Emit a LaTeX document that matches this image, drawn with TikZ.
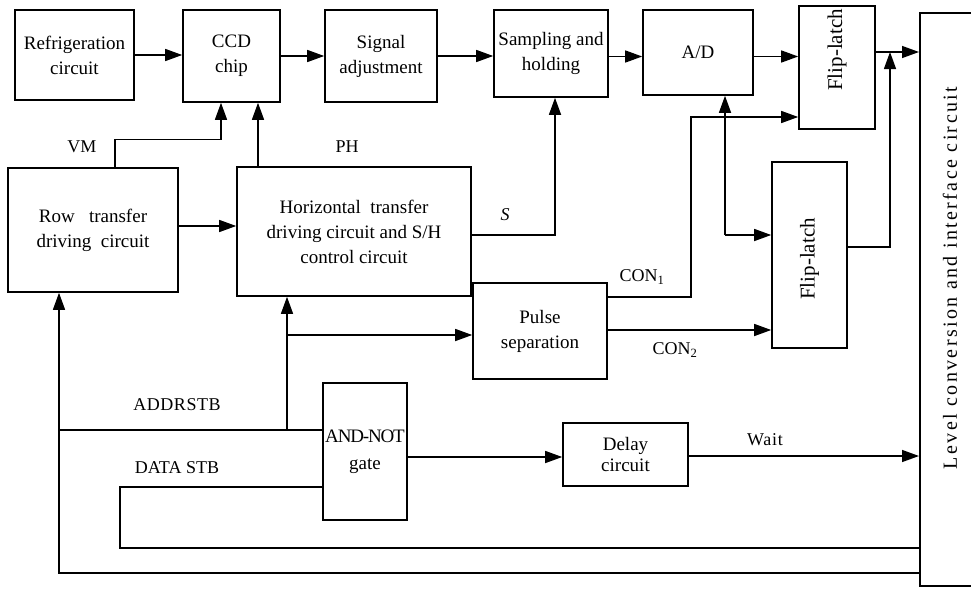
\documentclass[tikz,border=0pt]{standalone}
\usepackage{fontspec}
\setmainfont{Liberation Serif}
\usetikzlibrary{arrows.meta}
\begin{document}
\begin{tikzpicture}[x=1pt,y=-1pt,
  font=\fontsize{19}{25}\selectfont,
  box/.style={draw, line width=1.6pt, align=center, inner sep=1pt},
  arr/.style={line width=1.4pt, -{Triangle[length=17pt,width=12pt]}},
  ln/.style={line width=1.4pt},
  lab/.style={font=\fontsize{18}{22}\selectfont, inner sep=0pt}]
\useasboundingbox (0,0) rectangle (971,589);
\path[clip] (0,0) rectangle (971,589);

% top row
\node[box, minimum width=119pt, minimum height=90pt] (ref) at (74.5,55) {Refrigeration\\circuit};
\node[box, minimum width=97pt, minimum height=92pt] (ccd) at (231.5,56) {CCD\\chip};
\node[box, minimum width=112pt, minimum height=92pt] (sig) at (381,56) {Signal\\adjustment};
\node[box, minimum width=114pt, minimum height=87pt] (sh) at (551,53.5) {Sampling and\\holding};
\node[box, minimum width=110pt, minimum height=85pt] (ad) at (698,52.5) {A/D};
\node[box, minimum width=76pt, minimum height=123pt] (fl1) at (837,67.5) {};
\node[rotate=90, inner sep=0pt, font=\fontsize{21}{25}\selectfont] (fl1t) at (837,50) {Flip-latch};
\node[box, minimum width=110pt, minimum height=573pt, anchor=north west] (lvl) at (919,12) {};
\node[rotate=90, inner sep=0pt, font=\fontsize{20}{24}\selectfont] (lvlt) at (950,278) {\addfontfeature{LetterSpace=12}Level conversion and interface circuit};

% middle
\node[box, minimum width=170pt, minimum height=124pt] (row) at (93,230) {Row\ \ \ transfer\\driving\ \ circuit};
\node[box, minimum width=234pt, minimum height=129pt] (hor) at (354,231.5) {Horizontal\ \ transfer\\driving circuit and S/H\\control circuit};
\node[box, minimum width=134pt, minimum height=96pt] (pulse) at (540,331) {Pulse\\separation};
\node[box, minimum width=75pt, minimum height=186pt] (fl2) at (809.5,255) {};
\node[rotate=90, inner sep=0pt, font=\fontsize{21}{25}\selectfont] (fl2t) at (809.5,259) {Flip-latch};

% bottom
\node[box, minimum width=84pt, minimum height=137pt, inner sep=0pt, font=\fontsize{19}{27}\selectfont] (and) at (365,451.5) {\addfontfeature{LetterSpace=-6}AND-NOT\\gate};
\node[box, minimum width=125pt, minimum height=63pt, font=\fontsize{19}{21}\selectfont] (delay) at (625.5,454.5) {Delay\\circuit};

% coordinates
\coordinate (j1) at (890,52);
\coordinate (c1) at (691,117);
\coordinate (c2) at (725,235);
\coordinate (a1) at (287,430);
\coordinate (a2) at (287,335);
\coordinate (b1) at (59,430);
\coordinate (b2) at (59,573);
\coordinate (d1) at (120,487);
\coordinate (d2) at (120,548);

% top chain
\draw[arr] (ref.east) -- (ref.east -| ccd.west);
\draw[arr] (ccd.east) -- (ccd.east -| sig.west);
\draw[arr] (sig.east) -- (sig.east -| sh.west);
\draw[arr] ([yshift=-3pt]sh.east) -- ([yshift=-3pt]sh.east -| ad.west);
\draw[arr] ([yshift=-4pt]ad.east) -- ([yshift=-4pt]ad.east -| fl1.west);
\draw[arr] (fl1.east |- j1) -- (j1 -| lvl.west);
\draw[arr] ([yshift=8pt]fl2.east) -| (j1);

% VM and PH
\draw[arr] ([xshift=22pt]row.north) -- ++(0,-28) -| ([xshift=-10.5pt]ccd.south);
\draw[arr] ([xshift=-96pt]hor.north) -- ([xshift=-96pt]hor.north |- ccd.south);
\draw[arr] ([yshift=4pt]row.east) -- ([yshift=4pt]row.east -| hor.west);

% S
\draw[arr] ([yshift=-3.5pt]hor.east) -| ([xshift=4pt]sh.south);

% CON1
\draw[arr] ([yshift=34pt]pulse.east) -| (c1) -- (c1 -| fl1.west);
\draw[arr] (c2) -- (c2 |- ad.south);
\draw[arr] (c2) -- (c2 -| fl2.west);
% CON2
\draw[arr] ([yshift=1pt]pulse.east) -- ([yshift=1pt]pulse.east -| fl2.west);

% to horizontal box and pulse
\draw[arr] (a1) -- (a1 |- hor.south);
\draw[arr] (a2) -- (a2 -| pulse.west);

% ADDRSTB
\draw[ln] (b1) -- (b1 -| and.west);
\draw[arr] (b2 -| lvl.west) -- (b2) -- (b2 |- row.south);

% DATA STB
\draw[ln] (d1 -| and.west) -- (d1) -- (d2) -- (d2 -| lvl.west);

% gate -> delay -> level
\draw[arr] ([yshift=-5.5pt]and.east) -- ([yshift=-5.5pt]and.east -| delay.west);
\draw[arr] ([yshift=-1.5pt]delay.east) -- ([yshift=-1.5pt]delay.east -| lvl.west);

% labels
\node[lab] (lvm) at (82,147) {VM};
\node[lab] (lph) at (347,147) {PH};
\node[lab] (ls) at (505,215) {\itshape S};
\node[lab] (lcon1) at (642,277) {CON\textsubscript{1}};
\node[lab] (lcon2) at (675,350) {CON\textsubscript{2}};
\node[lab] (laddr) at (177,405) {\addfontfeature{LetterSpace=3}ADDRSTB};
\node[lab] (ldata) at (177,468) {DATA STB};
\node[lab] (lwait) at (765,440) {\addfontfeature{LetterSpace=4}Wait};
\end{tikzpicture}
\end{document}
